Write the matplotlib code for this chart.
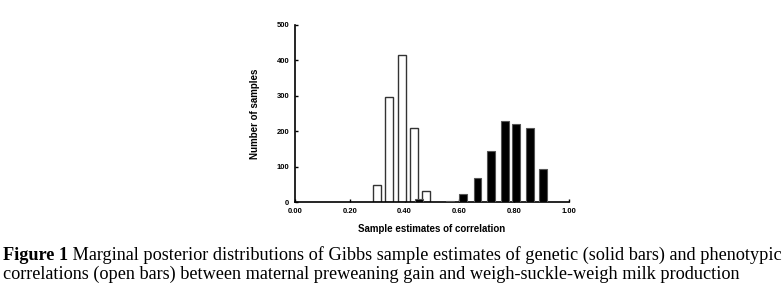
import matplotlib
matplotlib.use("Agg")
import matplotlib.pyplot as plt

# phenotypic correlations (open bars)
open_x = [0.300, 0.344, 0.389, 0.433, 0.477]
open_counts = [48, 297, 415, 208, 31]

# genetic correlations (solid bars)
solid_x = [0.454, 0.566, 0.614, 0.666, 0.716, 0.766, 0.806, 0.857, 0.906]
solid_counts = [8, 3, 22, 68, 143, 228, 220, 209, 92]

x_ticks = [0.0, 0.2, 0.4, 0.6, 0.8, 1.0]
y_ticks = [0, 100, 200, 300, 400, 500]

caption_head = "Figure 1"
caption_line1 = (" Marginal posterior distributions of Gibbs sample estimates of genetic "
                 "(solid bars) and phenotypic")
caption_line2 = ("correlations (open bars) between maternal preweaning gain and "
                 "weigh-suckle-weigh milk production")

fig = plt.figure(figsize=(7.84, 2.92), dpi=100)
ax = fig.add_axes([0.3763, 0.3082, 0.3495, 0.6062])

bar_w = 0.029
ax.bar(open_x, open_counts, width=bar_w, facecolor="white",
       edgecolor="#333333", linewidth=1.0, zorder=2)
ax.bar(solid_x, solid_counts, width=bar_w, facecolor="black",
       edgecolor="#555555", linewidth=0.8, zorder=3)

ax.set_xlim(0, 1.0)
ax.set_ylim(0, 500)
ax.set_xticks(x_ticks)
ax.set_xticklabels([f"{v:.2f}" for v in x_ticks])
ax.set_yticks(y_ticks)

for s in ["top", "right"]:
    ax.spines[s].set_visible(False)
for s in ["left", "bottom"]:
    ax.spines[s].set_linewidth(1.2)

ax.tick_params(direction="in", length=2.5, width=1.0, pad=4,
               labelsize=5.5, colors="black")
for lab in ax.get_xticklabels() + ax.get_yticklabels():
    lab.set_fontweight("bold")
    lab.set_fontfamily("Liberation Sans")

ax.set_xlabel("Sample estimates of correlation", fontsize=7,
              fontweight="bold", family="Liberation Sans", labelpad=7)
ax.set_ylabel("Number of samples", fontsize=7, fontweight="bold",
              family="Liberation Sans", labelpad=12)

# caption: bold head, then regular text on the same line
renderer = fig.canvas.get_renderer()
cap_size = 13.15
head = fig.text(0.004, 0.110, caption_head, fontsize=cap_size, fontweight="bold",
                family="Liberation Serif", va="baseline")
bb = head.get_window_extent(renderer=renderer)
x_after = bb.x1 / fig.bbox.width
fig.text(x_after, 0.110, caption_line1, fontsize=cap_size,
         family="Liberation Serif", va="baseline")
fig.text(0.004, 0.046, caption_line2, fontsize=cap_size,
         family="Liberation Serif", va="baseline")

fig.savefig("out.png", dpi=100)
